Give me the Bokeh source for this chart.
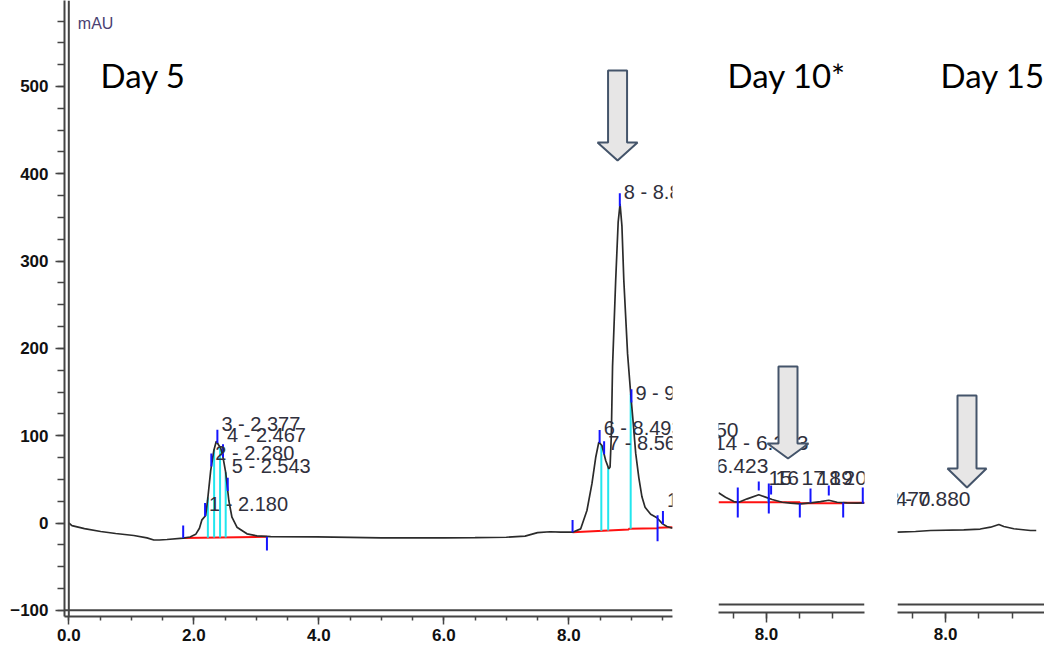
import numpy as np
from bokeh.plotting import figure
from bokeh.models import Span, Label, SingleIntervalTicker, PrintfTickFormatter, Range1d
from bokeh.layouts import row
from bokeh.embed import file_html
from bokeh.resources import INLINE
from bokeh.core.properties import value

# ---------------- data ----------------
day5_time = [0.00, 0.05, 0.25, 0.51, 0.75, 1.04, 1.25, 1.36, 1.45, 1.57, 1.83, 1.94, 2.03, 2.09,
             2.13, 2.19, 2.22, 2.27, 2.32, 2.36, 2.40, 2.43, 2.46, 2.51, 2.56, 2.61, 2.69, 2.85,
             3.01, 3.23, 3.97, 4.5, 5.0, 5.5, 6.0, 6.5, 7.0, 7.3, 7.5, 7.7, 7.87, 8.06, 8.19,
             8.29, 8.37, 8.43, 8.48, 8.53, 8.59, 8.64, 8.66, 8.68, 8.70, 8.75, 8.79, 8.82, 8.85,
             8.88, 8.94, 8.99, 9.03, 9.07, 9.12, 9.17, 9.22, 9.31, 9.41, 9.50, 9.57, 9.66]
day5_mau = [0, -3, -6.5, -9.7, -12, -14.3, -17, -19.5, -19.5, -18.9, -17.4, -16, -13, -6,
            3.6, 8.6, 25.8, 60, 83, 93.7, 89, 86, 78, 58, 25.8, 6.6, -4.8, -12.4,
            -14.7, -15.5, -16, -16.5, -17, -17, -17, -16.8, -16.3, -15, -11, -10, -10.5, -10.5, -6.7,
            14.3, 45, 75, 92.6, 88.8, 71.6, 62, 64, 100, 180, 278, 345, 365.6, 340,
            278, 194, 148, 115, 80, 52, 30, 18, 10, 6, -1, -4, -6]

day5_peak_rt = [2.180, 2.280, 2.377, 2.467, 2.543, 8.493, 8.565, 8.816, 9.002, 9.506]
day5_peak_text = ["1 - 2.180", "2 - 2.280", "3 - 2.377", "4 - 2.467", "5 - 2.543",
                  "6 - 8.493", "7 - 8.565", "8 - 8.816", "9 - 9.002", "10 - 9.506"]
day5_label_mau = [22, 80, 113, 101, 65, 109, 92, 379, 149, 26]
day5_drop_time = [2.225, 2.325, 2.42, 2.51, 8.52, 8.63, 8.99]

day5_base1_time = [1.83, 3.17]
day5_base1_mau = [-17.2, -15.8]
day5_base2_time = [8.06, 8.96, 8.96, 9.42, 9.42, 9.66]
day5_base2_mau = [-10.5, -7.5, -6.5, -6.0, -5.5, -5.0]
day5_mark_time = [1.83, 3.17, 8.06, 9.42]
day5_mark_lo = [-17.2, -31.5, -10.5, -21.0]
day5_mark_hi = [-3.0, -15.8, 3.5, 9.0]

day10_time = [7.273, 7.379, 7.505, 7.58, 7.708, 7.883, 7.985, 8.086, 8.238, 8.364, 8.515,
              8.667, 8.818, 8.944, 9.071, 9.223, 9.374, 9.485]
day10_mau = [34.6, 29.6, 24.6, 23.8, 27.7, 32.3, 29.6, 26.9, 23.8, 22.7, 22.0,
             23.1, 24.6, 26.1, 23.8, 23.1, 22.7, 23.1]
day10_base_time = [7.273, 8.505, 8.505, 9.162, 9.162, 9.485]
day10_base_mau = [23.8, 23.8, 22.5, 22.5, 23.2, 23.2]
day10_mark_time = [7.565, 7.883, 8.035, 8.07, 8.505, 8.667, 8.944, 9.162, 9.459]
day10_mark_lo = [6.3, 37.2, 10.9, 32.6, 6.3, 23.5, 31.5, 6.3, 22.3]
day10_mark_hi = [40.7, 47.5, 45.2, 43.0, 22.3, 39.5, 43.0, 23.5, 40.7]
day10_drop_time = [8.03]
day10_label_text = ["12 - 6.250", "14 - 6.383", "13 - 6.423"]
day10_label_end = [7.576, 8.636, 8.03]
day10_label_mau = [107, 92, 66]
day10_tag_text = ["15", "16", "17", "18", "19", "20"]
day10_tag_time = [8.03, 8.136, 8.53, 8.773, 8.955, 9.167]
day10_tag_mau = [51, 51, 51, 51, 51, 51]

day15_time = [7.276, 7.55, 7.775, 8.274, 8.52, 8.675, 8.80, 8.874, 9.024, 9.274, 9.36]
day15_mau = [-10.5, -9.7, -8.6, -7.8, -6.9, -4.8, -1.7, -4.0, -6.6, -8.6, -8.6]
day15_label_text = ["12 - 7.470", "13 - 7.880"]
day15_label_end = [7.775, 8.375]
day15_label_mau = [28, 28]

AXIS_COL = "#444444"
TRACE_COL = "#2b2b2b"
LABEL_COL = "#30303c"
TICK_FONT = "Liberation Sans"


def style_xaxis(p, major_out, minor_out, standoff):
    ax = p.xaxis[0]
    ax.ticker = SingleIntervalTicker(interval=2, num_minor_ticks=4)
    ax.formatter = PrintfTickFormatter(format="%.1f")
    ax.axis_line_color = AXIS_COL
    ax.axis_line_width = 2
    ax.major_tick_line_color = AXIS_COL
    ax.major_tick_line_width = 1.5
    ax.minor_tick_line_color = AXIS_COL
    ax.minor_tick_line_width = 1.5
    ax.major_tick_out = major_out
    ax.major_tick_in = 0
    ax.minor_tick_out = minor_out
    ax.minor_tick_in = 0
    ax.major_label_standoff = standoff
    ax.major_label_text_font = TICK_FONT
    ax.major_label_text_font_style = "bold"
    ax.major_label_text_font_size = "17px"
    ax.major_label_text_color = "#111111"


def block_arrow(p, tip_x, tip_y, sx, sy, shaft_w, head_w, head_h, length):
    hw = shaft_w / 2 / sx
    hh = head_w / 2 / sx
    y_head = tip_y + head_h / sy
    y_top = tip_y + length / sy
    xs = [tip_x - hw, tip_x + hw, tip_x + hw, tip_x + hh, tip_x, tip_x - hh, tip_x - hw]
    ys = [y_top, y_top, y_head, y_head, tip_y, y_head, y_head]
    p.patch(xs, ys, fill_color="#e7e6e6", line_color="#44546a", line_width=2)


def draw_labels(p, xs, ys, texts, align, xoff, size):
    p.text(x=xs, y=ys, text=texts, text_font=value("Liberation Sans"),
           text_font_size=value(size), text_color=LABEL_COL,
           text_baseline="middle", text_align=align, x_offset=xoff)


SY = 616 / (598.5 + 107.1)

# ---------------- Day 5 (main panel) ----------------
p1 = figure(frame_width=608, frame_height=616, x_range=Range1d(-0.069, 9.659),
            y_range=Range1d(-107.1, 598.5), output_backend="svg", toolbar_location=None,
            min_border_left=64, min_border_right=28, min_border_top=0, min_border_bottom=32,
            title=None)
p1.outline_line_color = None
p1.grid.visible = False
p1.background_fill_color = "white"
style_xaxis(p1, 8, 4, 4)
ya = p1.yaxis[0]
ya.ticker = SingleIntervalTicker(interval=100, num_minor_ticks=4)
ya.axis_line_color = AXIS_COL
ya.axis_line_width = 2
ya.major_tick_line_color = AXIS_COL
ya.major_tick_line_width = 1.5
ya.minor_tick_line_color = AXIS_COL
ya.minor_tick_line_width = 1.5
ya.major_tick_out = 9
ya.major_tick_in = 0
ya.minor_tick_out = 7
ya.minor_tick_in = 0
ya.major_label_standoff = 7
ya.major_label_text_font = TICK_FONT
ya.major_label_text_font_style = "bold"
ya.major_label_text_font_size = "17px"
ya.major_label_text_color = "#111111"
p1.add_layout(Span(location=0, dimension="height", line_color=AXIS_COL, line_width=2))
p1.add_layout(Span(location=-100, dimension="width", line_color=AXIS_COL, line_width=2))

t5 = np.array(day5_time)
v5 = np.array(day5_mau)
# red integration baselines
p1.line(day5_base1_time, day5_base1_mau, line_color="#ff1010", line_width=2)
p1.line(day5_base2_time, day5_base2_mau, line_color="#ff1010", line_width=2)
# cyan drop lines
bt = np.array(day5_base1_time + day5_base2_time)
bv = np.array(day5_base1_mau + day5_base2_mau)
order = np.argsort(bt, kind="stable")
dt = np.array(day5_drop_time)
p1.segment(x0=dt, y0=np.interp(dt, bt[order], bv[order]), x1=dt, y1=np.interp(dt, t5, v5),
           line_color="#22e6ee", line_width=2)
# trace
p1.line(day5_time, day5_mau, line_color=TRACE_COL, line_width=1.7)
# blue markers
rt = np.array(day5_peak_rt)
rv = np.interp(rt, t5, v5)
p1.segment(x0=rt, y0=rv, x1=rt, y1=rv + 15, line_color="#1515ff", line_width=2)
p1.segment(x0=day5_mark_time, y0=day5_mark_lo, x1=day5_mark_time, y1=day5_mark_hi,
           line_color="#1515ff", line_width=2)
draw_labels(p1, day5_peak_rt, day5_label_mau, day5_peak_text, "left", 4, "20px")

p1.add_layout(Label(x=0.144, y=571.6, text="mAU", text_font="Liberation Sans",
                    text_font_size="16px", text_color="#4b3f72", text_baseline="alphabetic"))
p1.add_layout(Label(x=0.507, y=513.7, text="Day 5", text_font="Lato",
                    text_font_size="33px", text_color="black", text_baseline="alphabetic"))
block_arrow(p1, 8.78, 415.2, 62.5, SY, 19, 40, 18, 90)

# ---------------- Day 10 panel ----------------
p2 = figure(frame_width=146, frame_height=612, x_range=Range1d(7.273, 9.485),
            y_range=Range1d(-102.5, 598.5), output_backend="svg", toolbar_location=None,
            min_border_left=18, min_border_right=16, min_border_top=0, min_border_bottom=36,
            y_axis_location=None, title=None)
p2.outline_line_color = None
p2.grid.visible = False
style_xaxis(p2, 10, 6, 5)
p2.add_layout(Span(location=-93.4, dimension="width", line_color=AXIS_COL, line_width=2))
p2.line(day10_base_time, day10_base_mau, line_color="#ff1010", line_width=2)
t10 = np.array(day10_time)
v10 = np.array(day10_mau)
d10 = np.array(day10_drop_time)
p2.segment(x0=d10, y0=np.interp(d10, day10_base_time, day10_base_mau), x1=d10,
           y1=np.interp(d10, t10, v10), line_color="#22e6ee", line_width=2)
p2.line(day10_time, day10_mau, line_color=TRACE_COL, line_width=1.7)
p2.segment(x0=day10_mark_time, y0=day10_mark_lo, x1=day10_mark_time, y1=day10_mark_hi,
           line_color="#1515ff", line_width=2)
draw_labels(p2, day10_label_end, day10_label_mau, day10_label_text, "right", 0, "21px")
draw_labels(p2, day10_tag_time, day10_tag_mau, day10_tag_text, "left", 0, "21px")
p2.add_layout(Label(x=7.409, y=513.7, text="Day 10*", text_font="Lato",
                    text_font_size="33px", text_color="black", text_baseline="alphabetic"))
block_arrow(p2, 8.326, 73.9, 66.0, SY, 19, 41, 15, 92)

# ---------------- Day 15 panel ----------------
p3 = figure(frame_width=147, frame_height=612, x_range=Range1d(7.28, 9.484),
            y_range=Range1d(-102.5, 598.5), output_backend="svg", toolbar_location=None,
            min_border_left=17, min_border_right=0, min_border_top=0, min_border_bottom=36,
            y_axis_location=None, title=None)
p3.outline_line_color = None
p3.grid.visible = False
style_xaxis(p3, 10, 6, 5)
p3.add_layout(Span(location=-93.4, dimension="width", line_color=AXIS_COL, line_width=2))
p3.line(day15_time, day15_mau, line_color=TRACE_COL, line_width=1.7)
draw_labels(p3, day15_label_end, day15_label_mau, day15_label_text, "right", 0, "21px")
p3.add_layout(Label(x=7.925, y=513.7, text="Day 15", text_font="Lato",
                    text_font_size="33px", text_color="black", text_baseline="alphabetic"))
block_arrow(p3, 8.322, 40.7, 66.7, SY, 19, 39, 19, 92)

layout = row(p1, p2, p3, spacing=0)
open("out.html", "w").write(file_html(layout, INLINE))
